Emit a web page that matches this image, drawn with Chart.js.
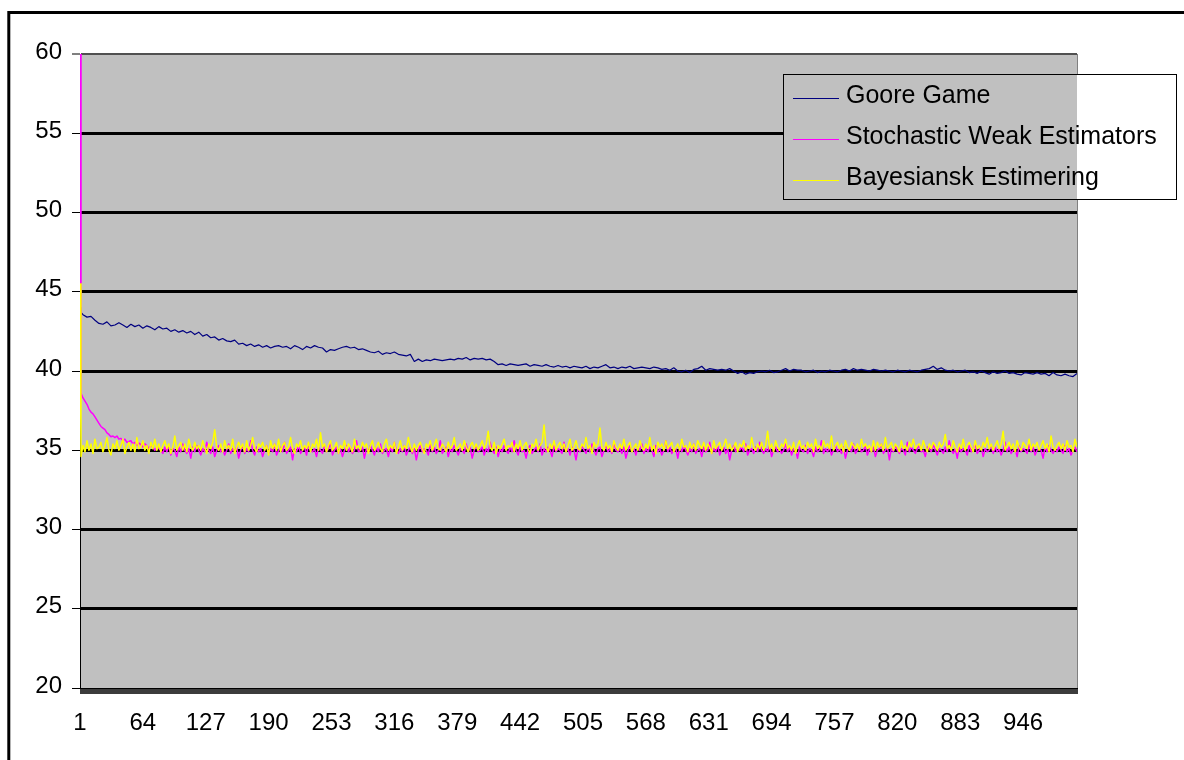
<!DOCTYPE html>
<html>
<head>
<meta charset="utf-8">
<title>Goore Game vs. estimators</title>
<script src="https://cdn.jsdelivr.net/npm/chart.js@4/dist/chart.umd.min.js"></script>
<style>
  html, body { margin: 0; padding: 0; background: #ffffff; overflow: hidden; }
  canvas { display: block; }
</style>
</head>
<body>
<canvas id="chart" width="1184" height="760"></canvas>
<script>
// Iteration index of the Goore Game samples: 1, 2, then every 4th step up to 1000
const gooreSteps = [1, 2];
for (let k = 1; k <= 250; k++) gooreSteps.push(4 * k);
// Iteration index of the estimator samples: 1, then every even step up to 1000
const estimatorSteps = [1];
for (let s = 2; s <= 1000; s += 2) estimatorSteps.push(s);

const seriesNames = ['Goore Game', 'Stochastic Weak Estimators', 'Bayesiansk Estimering'];

const gooreGame = [
  44.0, 43.7,
  43.55, 43.4, 43.45, 43.2, 43.0, 42.95, 43.1, 42.85, 42.9, 43.05,
  42.9, 42.75, 42.95, 42.8, 42.9, 42.7, 42.85, 42.75, 42.6, 42.8,
  42.65, 42.7, 42.5, 42.6, 42.45, 42.55, 42.4, 42.5, 42.3, 42.45,
  42.2, 42.3, 42.1, 42.15, 41.95, 42.05, 41.9, 41.85, 41.95, 41.7,
  41.75, 41.6, 41.7, 41.55, 41.65, 41.5, 41.6, 41.45, 41.55, 41.6,
  41.5, 41.55, 41.4, 41.6, 41.5, 41.35, 41.55, 41.45, 41.6, 41.5,
  41.45, 41.2, 41.35, 41.3, 41.4, 41.5, 41.55, 41.45, 41.5, 41.35,
  41.4, 41.3, 41.2, 41.15, 41.25, 41.05, 41.15, 41.1, 41.2, 41.05,
  41.0, 40.95, 41.05, 40.6, 40.75, 40.6, 40.7, 40.65, 40.75, 40.7,
  40.65, 40.7, 40.75, 40.7, 40.8, 40.75, 40.85, 40.7, 40.8, 40.75,
  40.8, 40.7, 40.75, 40.6, 40.4, 40.45, 40.35, 40.45, 40.4, 40.35,
  40.4, 40.45, 40.3, 40.4, 40.35, 40.3, 40.4, 40.3, 40.25, 40.35,
  40.25, 40.3, 40.2, 40.3, 40.25, 40.2, 40.3, 40.15, 40.25, 40.2,
  40.3, 40.4, 40.2, 40.25, 40.15, 40.25, 40.2, 40.3, 40.15, 40.2,
  40.25, 40.2, 40.15, 40.25, 40.2, 40.1, 40.15, 40.05, 40.2, 40.0,
  39.95, 40.05, 39.9, 40.1, 40.15, 40.3, 40.05, 40.15, 40.1, 40.05,
  40.1, 40.05, 40.15, 40.0, 39.85, 39.95, 39.8, 39.9, 39.85, 39.95,
  40.0, 39.95, 40.05, 39.9, 39.95, 40.05, 40.15, 40.0, 40.1, 40.05,
  40.05, 39.95, 40.0, 40.05, 39.9, 40.0, 39.95, 40.05, 40.0, 39.95,
  40.05, 40.1, 40.0, 40.15, 40.05, 40.1, 40.05, 40.0, 40.1, 40.05,
  40.0, 40.05, 40.0, 39.95, 40.05, 40.0, 39.95, 40.05, 40.0, 39.95,
  40.05, 40.1, 40.15, 40.3, 40.1, 40.2, 40.05, 40.0, 40.05, 39.95,
  40.0, 40.05, 39.9, 39.95, 39.85, 40.0, 39.9, 39.8, 39.95, 39.85,
  39.9, 40.0, 39.85, 39.9, 39.8, 39.75, 39.9, 39.85, 39.8, 39.9,
  39.8, 39.85, 39.7, 39.9, 39.75, 39.7, 39.8, 39.7, 39.65, 39.85
];

const weakEstimators = [
  60.0,
  38.6, 38.3, 38.1, 37.9, 37.6, 37.4, 37.3, 37.1, 36.9, 36.7,
  36.5, 36.4, 36.3, 36.1, 36.0, 35.85, 35.9, 35.8, 35.9, 35.7,
  35.75, 35.6, 35.7, 35.5, 35.55, 35.6, 35.4, 35.5, 35.3, 35.45,
  35.35, 35.2, 35.4, 35.3, 35.1, 35.3, 35.2, 35.0, 35.2, 35.1,
  35.0, 34.8, 35.2, 34.9, 35.3, 34.7, 35.1, 35.0, 34.6, 35.2,
  34.9, 35.4, 35.0, 34.8, 35.1, 34.5, 35.2, 34.9, 35.3, 35.0,
  34.7, 35.1, 34.9, 35.5, 35.0, 34.8, 35.2, 34.6, 35.0, 35.3,
  34.9, 35.1, 34.7, 35.0, 35.4, 34.8, 35.1, 34.9, 35.2, 34.5,
  35.0, 35.3, 34.8, 35.1, 34.9, 35.6, 35.0, 34.7, 35.2, 34.9,
  35.1, 34.6, 35.0, 35.3, 34.8, 35.1, 34.9, 35.4, 34.7, 35.0,
  35.2, 34.9, 35.5, 34.8, 35.0, 35.2, 34.4, 35.1, 34.9, 35.3,
  34.8, 35.0, 35.2, 34.7, 35.4, 35.0, 34.9, 35.1, 34.6, 35.2,
  35.0, 34.8, 35.3, 34.9, 35.1, 35.5, 34.7, 35.0, 35.2, 34.8,
  35.1, 34.6, 35.0, 35.3, 34.9, 35.2, 34.8, 35.0, 35.6, 34.9,
  35.0, 35.2, 34.5, 35.1, 34.9, 35.3, 35.0, 34.7, 35.2, 34.9,
  35.4, 34.8, 35.0, 35.1, 34.6, 35.2, 34.9, 35.5, 35.0, 34.8,
  35.1, 34.9, 35.3, 34.7, 35.0, 35.2, 34.8, 35.1, 34.4, 35.0,
  35.3, 34.9, 35.1, 35.0, 34.7, 35.4, 34.9, 35.2, 34.8, 35.0,
  35.6, 34.8, 35.0, 35.2, 34.6, 35.1, 34.9, 35.3, 35.0, 34.7,
  35.1, 35.0, 34.8, 35.4, 34.9, 35.2, 34.5, 35.0, 35.3, 34.9,
  35.0, 35.2, 34.7, 35.1, 34.9, 35.5, 35.0, 34.8, 35.2, 34.6,
  35.1, 34.9, 35.3, 35.0, 34.8, 35.2, 34.9, 35.6, 35.0, 34.7,
  35.2, 34.9, 35.0, 34.5, 35.1, 35.3, 34.8, 35.0, 35.2, 34.9,
  35.4, 34.7, 35.1, 34.9, 35.2, 35.0, 34.6, 35.3, 34.9, 35.1,
  35.0, 34.8, 35.5, 34.9, 35.1, 34.7, 35.2, 35.0, 34.4, 35.1,
  34.9, 35.3, 35.0, 34.8, 35.2, 34.9, 35.4, 35.0, 34.7, 35.1,
  35.2, 34.6, 35.0, 35.3, 34.9, 35.1, 34.8, 35.5, 35.0, 34.9,
  35.1, 34.8, 35.2, 34.5, 35.0, 35.3, 34.9, 35.1, 34.7, 35.2,
  35.0, 35.4, 34.8, 35.1, 34.9, 35.2, 35.0, 34.6, 35.3, 34.9,
  35.1, 34.7, 35.0, 35.6, 34.9, 35.2, 34.8, 35.0, 35.1, 34.5,
  35.2, 34.9, 35.3, 35.0, 34.7, 35.1, 34.9, 35.4, 34.8, 35.0,
  35.1, 34.6, 35.2, 34.9, 35.0, 35.5, 34.8, 35.1, 34.9, 35.3,
  34.7, 35.0, 35.2, 34.8, 35.1, 34.4, 35.0, 35.3, 34.9, 35.1,
  35.0, 35.2, 34.9, 35.4, 34.7, 35.0, 35.1, 34.8, 35.2, 34.9,
  35.5, 35.0, 34.8, 35.1, 34.9, 35.3, 34.6, 35.0, 35.2, 34.9,
  35.1, 34.8, 35.0, 35.4, 34.9, 35.2, 34.7, 35.1, 35.0, 34.5,
  35.2, 35.0, 34.9, 35.3, 34.8, 35.1, 35.0, 34.6, 35.2, 34.9,
  35.0, 35.6, 34.8, 35.1, 34.9, 35.2, 34.7, 35.0, 35.3, 34.9,
  35.1, 34.8, 35.2, 34.5, 35.0, 35.1, 34.9, 35.4, 34.8, 35.0,
  35.2, 34.9, 35.0, 35.3, 34.7, 35.1, 34.9, 35.2, 34.6, 35.0,
  35.1, 35.4, 34.8, 35.0, 35.2, 34.4, 35.1, 34.9, 35.3, 35.0,
  34.8, 35.1, 35.0, 34.7, 35.5, 34.9, 35.2, 35.0, 34.8, 35.1,
  35.3, 34.9, 35.0, 34.6, 35.2, 35.1, 34.9, 35.4, 35.0, 34.7,
  35.1, 35.0, 34.8, 35.2, 34.9, 35.6, 35.0, 34.8, 35.1, 34.5,
  35.2, 34.9, 35.1, 35.0, 34.7, 35.3, 34.9, 35.1, 35.4, 34.8,
  35.0, 35.2, 34.6, 35.1, 34.9, 35.0, 35.3, 34.8, 35.2, 34.9,
  35.1, 34.7, 35.0, 35.5, 34.9, 35.2, 34.8, 35.0, 35.1, 34.6,
  35.3, 34.9, 35.1, 35.0, 34.8, 35.4, 34.9, 35.2, 34.7, 35.0,
  35.1, 35.0, 34.5, 35.2, 34.9, 35.3, 35.0, 34.8, 35.1, 34.9,
  35.2, 35.0, 34.8, 35.3, 34.9, 35.1, 34.7, 35.0, 35.2, 34.9
];

const bayesEstimate = [
  45.5,
  34.6, 35.3, 34.9, 35.6, 35.0, 35.4, 34.8, 35.7, 35.1, 35.2,
  35.5, 34.9, 35.3, 35.8, 35.0, 34.7, 35.4, 35.1, 35.6, 35.0,
  35.3, 35.7, 34.8, 35.2, 35.5, 35.0, 35.4, 34.9, 35.8, 35.1,
  35.2, 35.6, 35.0, 35.3, 34.8, 35.5, 35.1, 35.7, 35.0, 35.4,
  34.9, 35.3, 35.6, 35.1, 35.4, 34.8, 35.2, 35.9, 35.0, 35.3,
  35.5, 35.0, 35.4, 34.9, 35.7, 35.2, 35.0, 35.5, 35.1, 35.3,
  35.0, 35.6, 35.2, 34.8, 35.4, 35.1, 35.5, 36.3, 35.2, 35.0,
  35.4, 34.9, 35.6, 35.1, 35.3, 35.0, 35.7, 34.8, 35.2, 35.5,
  35.1, 35.4, 34.9, 35.6, 35.0, 35.3, 35.8, 35.1, 34.9, 35.4,
  35.2, 35.5, 35.0, 35.3, 34.7, 35.6, 35.1, 35.4, 35.0, 35.7,
  34.9, 35.3, 35.5, 35.0, 35.2, 35.8, 35.1, 34.8, 35.4, 35.2,
  35.6, 35.0, 35.3, 35.1, 35.5, 34.9, 35.4, 35.2, 35.7, 35.0,
  36.1, 35.2, 35.4, 34.9, 35.3, 35.6, 35.0, 35.2, 35.5, 34.8,
  35.3, 35.1, 35.6, 35.0, 35.4, 35.2, 34.9, 35.7, 35.1, 35.3,
  35.0, 35.5, 35.2, 35.4, 34.8, 35.3, 35.6, 35.0, 35.2, 35.5,
  35.1, 34.9, 35.4, 35.7, 35.0, 35.3, 35.1, 35.5, 34.8, 35.2,
  35.6, 35.0, 35.3, 35.1, 35.8, 35.2, 34.9, 35.4, 35.0, 35.3,
  35.5, 35.1, 34.8, 35.4, 35.2, 35.6, 35.0, 35.3, 35.7, 35.1,
  35.0, 35.4, 35.2, 34.9, 35.5, 35.1, 35.3, 35.8, 35.0, 35.2,
  35.4, 35.0, 35.6, 35.2, 34.9, 35.3, 35.5, 35.1, 35.4, 35.0,
  35.3, 35.6, 35.1, 35.4, 36.2, 35.2, 35.0, 35.5, 34.8, 35.3,
  35.1, 35.4, 35.7, 35.0, 35.3, 35.2, 35.5, 34.9, 35.4, 35.1,
  35.6, 35.0, 35.3, 35.5, 35.1, 34.8, 35.4, 35.2, 35.7, 35.0,
  35.3, 35.5, 36.6, 35.2, 34.9, 35.4, 35.1, 35.6, 35.0, 35.3,
  35.5, 35.1, 35.4, 34.9, 35.3, 35.7, 35.0, 35.2, 35.6, 35.1,
  35.0, 35.4, 35.2, 35.8, 35.1, 35.3, 34.8, 35.5, 35.2, 35.4,
  36.4, 35.2, 35.0, 35.5, 35.1, 35.3, 34.9, 35.6, 35.2, 35.0,
  35.4, 35.1, 35.7, 35.0, 35.3, 35.5, 34.9, 35.2, 35.4, 35.0,
  35.6, 35.2, 35.0, 35.4, 35.1, 35.8, 35.0, 35.3, 34.8, 35.5,
  35.2, 35.4, 35.0, 35.6, 35.1, 35.3, 35.5, 34.9, 35.2, 35.4,
  35.0, 35.7, 35.2, 35.3, 34.9, 35.5, 35.1, 35.4, 35.0, 35.6,
  35.3, 35.1, 35.5, 35.0, 35.4, 35.2, 34.8, 35.6, 35.1, 35.3,
  35.5, 35.0, 35.3, 35.7, 35.1, 35.4, 35.0, 35.2, 35.5, 34.9,
  35.4, 35.2, 35.6, 35.0, 35.3, 35.1, 35.8, 35.2, 35.0, 35.4,
  35.1, 35.5, 35.0, 35.3, 36.2, 35.1, 35.4, 34.9, 35.6, 35.2,
  35.0, 35.4, 35.2, 35.7, 35.1, 35.3, 35.0, 35.5, 34.8, 35.3,
  35.6, 35.1, 35.3, 35.0, 35.5, 35.2, 35.4, 34.9, 35.7, 35.1,
  35.3, 35.0, 35.6, 35.2, 35.4, 35.1, 35.9, 35.0, 35.3, 35.5,
  35.1, 35.4, 34.9, 35.6, 35.2, 35.0, 35.5, 35.3, 35.1, 35.4,
  35.0, 35.7, 35.2, 35.4, 35.1, 35.3, 34.9, 35.6, 35.0, 35.5,
  35.2, 35.4, 35.0, 35.8, 35.1, 35.3, 35.5, 35.0, 35.4, 35.2,
  34.9, 35.6, 35.1, 35.3, 35.0, 35.5, 35.2, 35.7, 35.1, 35.3,
  35.4, 35.0, 35.6, 35.2, 34.9, 35.4, 35.1, 35.5, 35.3, 35.0,
  35.5, 35.2, 35.4, 36.0, 35.1, 35.3, 35.0, 35.6, 35.2, 34.9,
  35.4, 35.1, 35.7, 35.0, 35.3, 35.5, 35.2, 34.9, 35.6, 35.1,
  35.3, 35.0, 35.5, 35.2, 35.8, 35.1, 35.4, 35.0, 35.3, 35.6,
  35.1, 35.4, 36.2, 35.0, 35.3, 35.5, 35.1, 35.4, 34.9, 35.6,
  35.2, 35.0, 35.5, 35.3, 35.1, 35.7, 35.0, 35.4, 35.2, 35.5,
  35.0, 35.3, 35.6, 35.1, 35.4, 34.9, 35.9, 35.2, 35.0, 35.3,
  35.5, 35.1, 35.4, 35.0, 35.6, 35.2, 35.3, 34.9, 35.7, 35.2
];

// Axis settings
const yMin = 20, yMax = 60, yStep = 5;
const xFirst = 1, xLast = 1000, xLabelEvery = 63;

const FONT = 'Liberation Sans, Arial, sans-serif';

function toPoints(steps, values) {
  return values.map((v, i) => ({ x: steps[i], y: v }));
}

// Grey plot area, outer frame and right edge of the plot
const frame = {
  id: 'frame',
  beforeDraw(chart) {
    const { ctx, chartArea: a } = chart;
    ctx.save();
    ctx.fillStyle = '#ffffff';
    ctx.fillRect(0, 0, chart.width, chart.height);
    ctx.fillStyle = '#c0c0c0';
    ctx.fillRect(a.left, a.top, a.right - a.left, a.bottom - a.top);
    ctx.lineWidth = 3;
    ctx.strokeStyle = '#000000';
    ctx.strokeRect(8.8, 12.5, 1400, 1000);
    ctx.restore();
  },
  afterDatasetsDraw(chart) {
    const { ctx, chartArea: a } = chart;
    ctx.save();
    ctx.strokeStyle = '#808080';
    ctx.lineWidth = 1;
    ctx.beginPath();
    ctx.moveTo(Math.round(a.right) + 0.5, a.top);
    ctx.lineTo(Math.round(a.right) + 0.5, a.bottom);
    ctx.stroke();
    ctx.restore();
  }
};

// Boxed legend overlapping the top right of the plot
const boxLegend = {
  id: 'boxLegend',
  afterDraw(chart) {
    const { ctx, chartArea: a } = chart;
    const box = { x: 783, y: 74, w: 393, h: 125 };
    const rows = [98, 139, 180];
    ctx.save();
    // the box hides the grid behind it: white outside the plot, grey inside
    ctx.fillStyle = '#ffffff';
    ctx.fillRect(box.x, box.y, box.w, box.h);
    ctx.fillStyle = '#c0c0c0';
    ctx.fillRect(box.x, box.y, Math.min(box.x + box.w, a.right) - box.x, box.h);
    ctx.strokeStyle = '#000000';
    ctx.lineWidth = 1;
    ctx.strokeRect(box.x + 0.5, box.y + 0.5, box.w, box.h);
    ctx.font = '25px ' + FONT;
    ctx.textBaseline = 'middle';
    ctx.textAlign = 'left';
    chart.data.datasets.forEach((ds, i) => {
      const y = rows[i];
      ctx.strokeStyle = ds.borderColor;
      ctx.lineWidth = 1;
      ctx.beginPath();
      ctx.moveTo(793, y + 0.5);
      ctx.lineTo(839, y + 0.5);
      ctx.stroke();
      ctx.fillStyle = '#000000';
      ctx.fillText(ds.label, 846, y - 2);
    });
    ctx.restore();
  }
};

new Chart(document.getElementById('chart'), {
  type: 'line',
  data: {
    datasets: [
      { label: seriesNames[0], data: toPoints(gooreSteps, gooreGame), borderColor: '#000080', borderWidth: 1.2, order: 2 },
      { label: seriesNames[1], data: toPoints(estimatorSteps, weakEstimators), borderColor: '#ff00ff', borderWidth: 1.5, order: 1 },
      { label: seriesNames[2], data: toPoints(estimatorSteps, bayesEstimate), borderColor: '#ffff00', borderWidth: 1.5, order: 0 }
    ]
  },
  options: {
    responsive: false,
    animation: false,
    devicePixelRatio: 1,
    layout: { padding: { left: 0, top: 54, right: 107, bottom: 0 } },
    elements: {
      point: { radius: 0 },
      line: { tension: 0, borderJoinStyle: 'round', fill: false }
    },
    plugins: {
      legend: { display: false },
      tooltip: { enabled: false }
    },
    scales: {
      x: {
        type: 'linear',
        min: xFirst,
        max: xLast,
        afterFit(scale) { scale.height = 72; },
        border: { color: '#000000', width: 1 },
        grid: { drawOnChartArea: false, drawTicks: true, tickLength: 6, color: '#3c3c3c', lineWidth: 1 },
        ticks: {
          stepSize: 1,
          autoSkip: false,
          maxRotation: 0,
          minRotation: 0,
          padding: 15,
          color: '#000000',
          font: { family: FONT, size: 24 },
          callback: (v) => ((v - xFirst) % xLabelEvery === 0 ? String(v) : '')
        }
      },
      y: {
        min: yMin,
        max: yMax,
        afterFit(scale) { scale.width = 80; },
        border: { color: '#000000', width: 1 },
        grid: {
          color: (c) => (c.tick && c.tick.value === yMax ? '#505050' : '#000000'),
          lineWidth: (c) => (c.tick && c.tick.value === yMax ? 2 : (c.tick && c.tick.value === yMin ? 1 : 3)),
          tickColor: '#000000',
          tickWidth: 1,
          tickLength: 8
        },
        ticks: {
          stepSize: yStep,
          padding: 10,
          labelOffset: -2,
          color: '#000000',
          font: { family: FONT, size: 24 }
        }
      }
    }
  },
  plugins: [frame, boxLegend]
});
</script>
</body>
</html>
